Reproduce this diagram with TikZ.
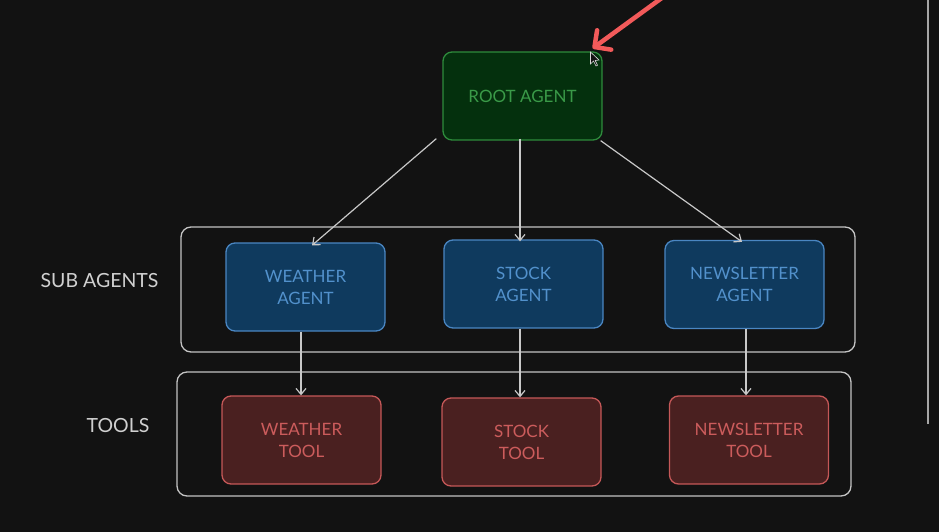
\documentclass[tikz,border=0pt]{standalone}
\usepackage{fontspec}
\setmainfont{Lato}
\usetikzlibrary{arrows.meta}
\definecolor{bg}{HTML}{121212}
\definecolor{rootfill}{HTML}{04300D}
\definecolor{rootline}{HTML}{2E8B3C}
\definecolor{roottext}{HTML}{3A9A48}
\definecolor{agentfill}{HTML}{0F3A5E}
\definecolor{agentline}{HTML}{4A86C2}
\definecolor{agenttext}{HTML}{5291CC}
\definecolor{toolfill}{HTML}{4A2020}
\definecolor{toolline}{HTML}{C55858}
\definecolor{tooltext}{HTML}{CC5C5C}
\definecolor{groupline}{HTML}{C4C4C4}
\definecolor{labeltext}{HTML}{D0D0D0}
\definecolor{linkcol}{HTML}{C8C8C8}
\definecolor{pointer}{HTML}{F25A5A}
\tikzset{
  box/.style={rounded corners=9pt, line width=1.3pt, minimum width=159pt,
    minimum height=88pt, align=center, inner sep=0pt,
    font=\fontsize{17}{22}\selectfont},
  rootbox/.style={box, fill=rootfill, draw=rootline, text=roottext},
  agentbox/.style={box, fill=agentfill, draw=agentline, text=agenttext},
  toolbox/.style={box, fill=toolfill, draw=toolline, text=tooltext},
  group/.style={rounded corners=10pt, draw=groupline, line width=1.3pt},
  grouplabel/.style={text=labeltext, font=\fontsize{19.5}{22}\selectfont},
  link/.style={draw=linkcol, line width=1.2pt,
    -{Straight Barb[length=6pt,width=10pt,line width=1.2pt]}},
}
\begin{document}
\begin{tikzpicture}[x=1pt,y=-1pt]
  \fill[bg] (0,0) rectangle (939,532);
  \useasboundingbox (0,0) rectangle (939,532);

  % group frames
  \draw[group] (181,227) rectangle (855,352);
  \draw[group] (177,372) rectangle (851,496);
  \node[grouplabel] (sublabel) at (99.5,281) {SUB AGENTS};
  \node[grouplabel] (toollabel) at (118,426) {TOOLS};

  % nodes
  \node[rootbox] (root) at (522.5,96) {ROOT AGENT};
  \node[agentbox] (wa) at (305.5,287) {\raisebox{-2pt}{\parbox{150pt}{\centering WEATHER\\AGENT}}};
  \node[agentbox] (sa) at (523.5,284) {\raisebox{-2pt}{\parbox{150pt}{\centering STOCK\\AGENT}}};
  \node[agentbox] (na) at (744.5,284.5) {\raisebox{-2pt}{\parbox{150pt}{\centering NEWSLETTER\\AGENT}}};
  \node[toolbox] (wt) at (301.5,440) {\raisebox{-1pt}{\parbox{150pt}{\centering WEATHER\\TOOL}}};
  \node[toolbox] (st) at (521.5,442) {\raisebox{-1pt}{\parbox{150pt}{\centering STOCK\\TOOL}}};
  \node[toolbox] (nt) at (749,440) {\raisebox{-1pt}{\parbox{150pt}{\centering NEWSLETTER\\TOOL}}};

  % root to sub agents
  \draw[link] ([xshift=-6pt,yshift=2pt]root.south west) -- ([xshift=6.5pt,yshift=-3pt]wa.north);
  \draw[link] ([xshift=-2.5pt,yshift=2pt]root.south) -- ([xshift=-3.5pt,yshift=-2pt]sa.north);
  \draw[link] ([xshift=-2pt]root.south east) -- ([xshift=-2.5pt,yshift=-2pt]na.north);

  % sub agents to tools
  \draw[link] ([xshift=-4.5pt]wa.south) -- ([xshift=-0.5pt]wt.north);
  \draw[link] ([xshift=-3.5pt]sa.south) -- ([xshift=-1.5pt]st.north);
  \draw[link] ([xshift=1.5pt]na.south) -- ([xshift=-3pt]nt.north);

  % highlight pointer
  \coordinate (ptrstart) at (670,-8);
  \draw[pointer, line width=4.5pt, line cap=round,
    -{Straight Barb[length=12pt,width=24pt,line width=4.5pt,round]}]
    (ptrstart) -- ([xshift=-10pt,yshift=3pt]root.north east);

  % cursor
  \draw[white!85!black, line width=0.6pt, fill=bg]
    (590.5,52) -- (590.5,64) -- (593.5,61) -- (596,66) -- (597.5,65.2) -- (595.2,60.5) -- (599,60) -- cycle;

  % right edge rule
  \draw[gray!70, line width=2pt] (928,0) -- (928,424);
\end{tikzpicture}
\end{document}
